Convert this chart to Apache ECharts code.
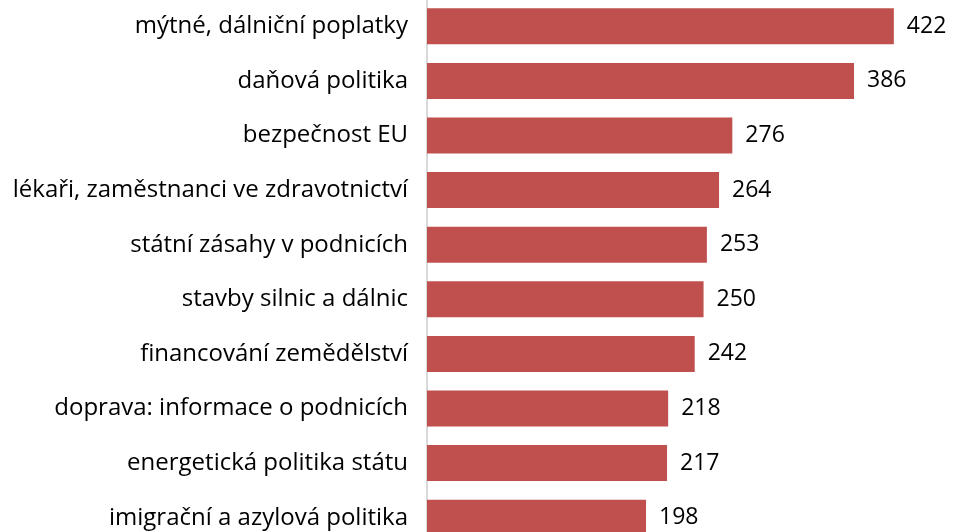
<!DOCTYPE html>
<html>
<head>
<meta charset="utf-8">
<script src="https://cdn.jsdelivr.net/npm/echarts@6/dist/echarts.min.js"></script>
<style>
  html, body { margin: 0; padding: 0; background: #fff; }
  #chart { width: 967px; height: 532px; }
</style>
</head>
<body>
<div id="chart"></div>
<script>
// kategorie a hodnoty (shora dolů)
const categories = [
  'mýtné, dálniční poplatky',
  'daňová politika',
  'bezpečnost EU',
  'lékaři, zaměstnanci ve zdravotnictví',
  'státní zásahy v podnicích',
  'stavby silnic a dálnic',
  'financování zemědělství',
  'doprava: informace o podnicích',
  'energetická politika státu',
  'imigrační a azylová politika'
];
const values = [422, 386, 276, 264, 253, 250, 242, 218, 217, 198];

const chart = echarts.init(document.getElementById('chart'));
chart.setOption({
  animation: false,
  grid: { left: 427, width: 531, top: -1, height: 546, outerBoundsMode: 'none', containLabel: false },
  xAxis: {
    type: 'value',
    min: 0,
    max: 480,
    show: false
  },
  yAxis: {
    type: 'category',
    inverse: true,
    data: categories,
    axisTick: { show: false },
    axisLine: { show: true, lineStyle: { color: '#d9d9d9', width: 2 } },
    axisLabel: {
      margin: 19,
      color: '#000',
      fontSize: 24,
      fontFamily: 'Open Sans'
    }
  },
  series: [{
    type: 'bar',
    data: values,
    barCategoryGap: '34%',
    itemStyle: { color: '#c0504d' },
    label: {
      show: true,
      position: 'right',
      distance: 13,
      color: '#000',
      fontSize: 23,
      fontFamily: 'Open Sans'
    }
  }]
});
</script>
</body>
</html>
